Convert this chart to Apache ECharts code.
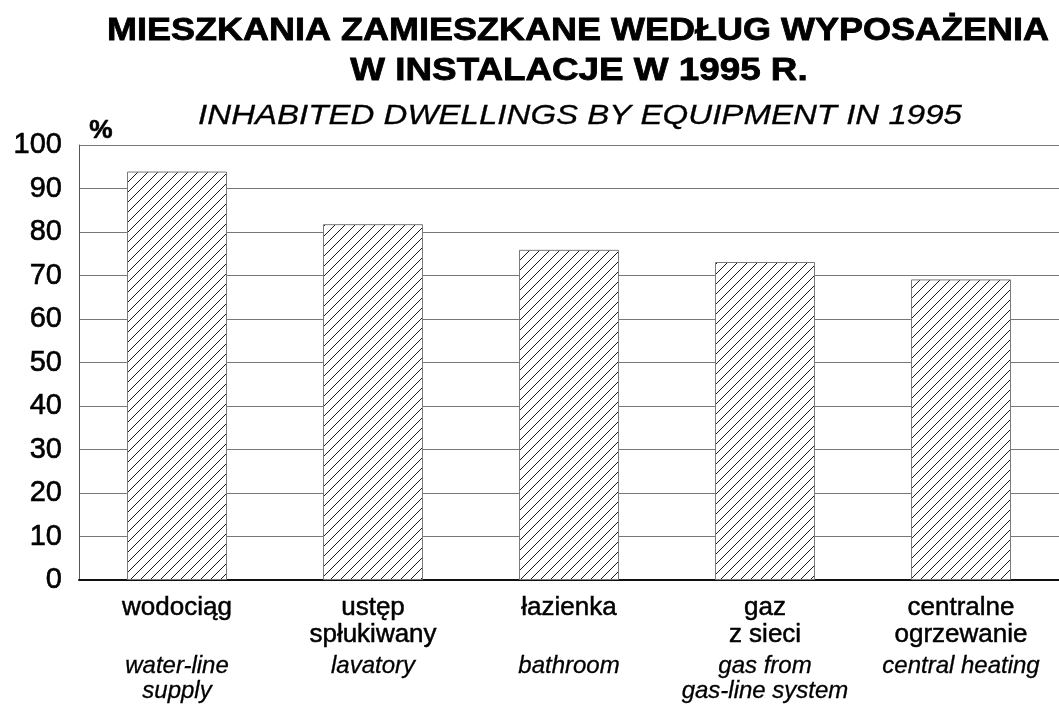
<!DOCTYPE html>
<html>
<head>
<meta charset="utf-8">
<script src="https://cdn.jsdelivr.net/npm/echarts@6/dist/echarts.min.js"></script>
<style>
  html, body { margin: 0; padding: 0; background: #fff; }
  #chart { width: 1059px; height: 711px; }
</style>
</head>
<body>
<div id="chart"></div>
<script>
// Equipment categories: Polish name (1–2 lines) and English gloss (1–2 lines)
const categoriesPl = [
  ['wodociąg'],
  ['ustęp', 'spłukiwany'],
  ['łazienka'],
  ['gaz', 'z sieci'],
  ['centralne', 'ogrzewanie']
];
const categoriesEn = [
  ['water-line', 'supply'],
  ['lavatory'],
  ['bathroom'],
  ['gas from', 'gas-line system'],
  ['central heating']
];
// Share of inhabited dwellings with each installation, %
const shares = [93.9, 81.8, 75.9, 73.1, 69.1];

const titleLines = ['MIESZKANIA ZAMIESZKANE WEDŁUG WYPOSAŻENIA', 'W INSTALACJE W 1995 R.'];
const subtitle = 'INHABITED DWELLINGS BY EQUIPMENT IN 1995';
const unitLabel = '%';

const FONT = '"Liberation Sans", Arial, Helvetica, sans-serif';

// Diagonal "/" hatching used to fill the bars
function makeHatch() {
  const c = document.createElement('canvas');
  c.width = 10; c.height = 10;
  const g = c.getContext('2d');
  g.fillStyle = '#fff';
  g.fillRect(0, 0, 10, 10);
  g.strokeStyle = '#1a1a1a';
  g.lineWidth = 1;
  g.beginPath();
  g.moveTo(-1, 11);
  g.lineTo(11, -1);
  g.stroke();
  return c;
}

const chart = echarts.init(document.getElementById('chart'), null, { renderer: 'canvas' });

// Header lines drawn slightly widened and with a thin outline for a heavier face
function headerText(text, x, y, font, sx, weight) {
  return {
    type: 'text', x: x, y: y, scaleX: sx, silent: true,
    style: {
      text: text, font: font, fill: '#000',
      stroke: '#000', lineWidth: weight,
      align: 'center', textAlign: 'center',
      verticalAlign: 'middle', textVerticalAlign: 'middle'
    }
  };
}

chart.setOption({
  backgroundColor: '#fff',
  animation: false,
  grid: { left: 79, top: 145, width: 982, height: 435, containLabel: false },
  graphic: [
    headerText(titleLines[0], 578, 31, 'bold 32px ' + FONT, 1.125, 0.8),
    headerText(titleLines[1], 579, 71, 'bold 32px ' + FONT, 1.15, 0.8),
    headerText(subtitle, 580, 116, 'italic 28px ' + FONT, 1.18, 0.3),
    headerText(unitLabel, 101, 131, 'bold 25px ' + FONT, 1.05, 0.6)
  ],
  xAxis: {
    type: 'category',
    data: categoriesPl.map(l => l.join(' ')),
    axisLine: { show: true, lineStyle: { color: '#111', width: 2 } },
    axisTick: { show: false },
    splitLine: { show: false },
    axisLabel: {
      interval: 0,
      margin: 14,
      hideOverlap: false,
      formatter: function (value, i) {
        const pl = categoriesPl[i], en = categoriesEn[i];
        const lines = [
          '{pl|' + pl[0] + '}',
          '{pl|' + (pl[1] || ' ') + '}',
          '{sp| }',
          '{en|' + en[0] + '}'
        ];
        if (en[1]) lines.push('{en|' + en[1] + '}');
        return lines.join('\n');
      },
      rich: {
        pl: {
          fontFamily: FONT, fontSize: 26, lineHeight: 27, color: '#000',
          textBorderColor: '#000', textBorderWidth: 0.5
        },
        sp: { fontSize: 1, lineHeight: 6 },
        en: {
          fontFamily: FONT, fontSize: 24, fontStyle: 'italic', lineHeight: 25, color: '#000',
          textBorderColor: '#000', textBorderWidth: 0.3
        }
      }
    }
  },
  yAxis: {
    type: 'value',
    min: 0,
    max: 100,
    interval: 10,
    axisLine: { show: true, lineStyle: { color: '#555', width: 1 } },
    axisTick: { show: false },
    splitLine: { show: true, lineStyle: { color: '#777', width: 1 } },
    axisLabel: {
      margin: 17,
      fontFamily: FONT,
      fontSize: 29,
      color: '#000',
      textBorderColor: '#000',
      textBorderWidth: 0.6
    }
  },
  series: [{
    type: 'bar',
    data: shares,
    barWidth: 100,
    itemStyle: {
      color: { image: makeHatch(), repeat: 'repeat' },
      borderColor: '#7a7a7a',
      borderWidth: 1
    },
    emphasis: { disabled: true }
  }]
});
</script>
</body>
</html>
